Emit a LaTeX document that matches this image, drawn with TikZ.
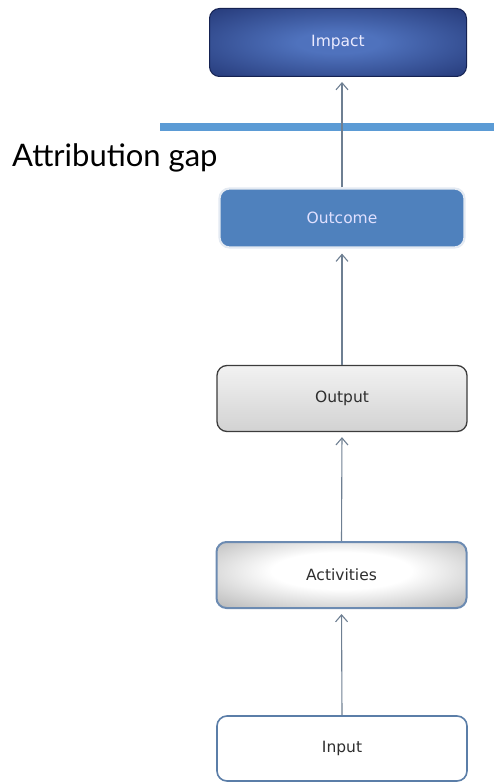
\documentclass[tikz,border=0pt]{standalone}
\usepackage{fontspec}
\setmainfont{DejaVu Sans}
\newfontfamily\gapfont{Lato}
\usetikzlibrary{arrows.meta}

\definecolor{navyedge}{HTML}{1A2A66}
\definecolor{navymid}{HTML}{4F72BD}
\definecolor{outcomeblue}{HTML}{4F81BD}
\definecolor{outcomerim}{HTML}{E4EAF2}
\definecolor{greytop}{HTML}{F2F2F2}
\definecolor{greybot}{HTML}{D2D2D2}
\definecolor{greyrim}{HTML}{3C3C3C}
\definecolor{silveredge}{HTML}{8E8E8E}
\definecolor{steelrim}{HTML}{6C8BB2}
\definecolor{inputrim}{HTML}{5B7EA8}
\definecolor{gapbar}{HTML}{5B9BD5}
\definecolor{linkgrey}{HTML}{6E7F92}
\definecolor{labeldark}{HTML}{2E2E2E}

% soft glows, stretched over each box
\pgfdeclareradialshading{navyglow}{\pgfpoint{0bp}{0bp}}{%
  color(0bp)=(navymid); color(8bp)=(navymid);
  color(44bp)=(navyedge); color(72bp)=(navyedge)}
\pgfdeclareradialshading{silverglow}{\pgfpoint{0bp}{4bp}}{%
  color(0bp)=(white); color(14bp)=(white);
  color(50bp)=(silveredge); color(75bp)=(silveredge)}

\tikzset{
  stage/.style={rounded corners=10pt, minimum width=250pt, inner sep=0pt,
    font=\fontsize{15.5}{16}\selectfont, text=labeldark},
  impactbox/.style={stage, minimum width=257pt, minimum height=68pt,
    shading=navyglow, draw=navyedge!80!black,
    line width=1pt, text=white!92!blue},
  outcomebox/.style={stage, minimum width=245pt, minimum height=59pt,
    fill=outcomeblue, draw=outcomerim, line width=2.2pt, text=white!88!blue},
  outputbox/.style={stage, minimum height=66pt,
    top color=greytop, bottom color=greybot, draw=greyrim, line width=1.3pt},
  activitybox/.style={stage, minimum height=66pt,
    shading=silverglow, draw=steelrim, line width=2pt},
  inputbox/.style={stage, minimum height=65pt,
    fill=white, draw=inputrim, line width=1.6pt},
  link/.style={draw=linkgrey, line width=1.1pt, shorten >=5pt,
    -{Straight Barb[length=7pt,width=12pt]}},
}

\begin{document}
\begin{tikzpicture}[x=1pt, y=-1pt]
  \useasboundingbox (0,0) rectangle (494,783);

  % attribution gap bar and its caption
  \coordinate (barL) at (160,127);
  \coordinate (barR) at (494,127);
  \draw[gapbar, line width=8pt] (barL) -- (barR);
  \node[anchor=base west, inner sep=0pt, font=\gapfont\fontsize{31}{32}\selectfont]
    (gap) at (12,167) {Attribution gap};

  % results chain
  \node[impactbox]   (impact)   at (338,42.5) {Impact};
  \node[outcomebox]  (outcome)  at (342,218)  {Outcome};
  \node[outputbox]   (output)   at (342,398.5) {Output};
  \node[activitybox] (activity) at (341.5,575) {Activities};
  \node[inputbox]    (input)    at (342,748.5) {Input};

  % upward links
  \draw[link] (input.north)    -- (activity.south);
  \draw[link] (activity.north) -- (output.south);
  \draw[link] (output.north)   -- (outcome.south);
  \draw[link] (outcome.north)  -- (outcome.north |- impact.south);
\end{tikzpicture}
\end{document}
